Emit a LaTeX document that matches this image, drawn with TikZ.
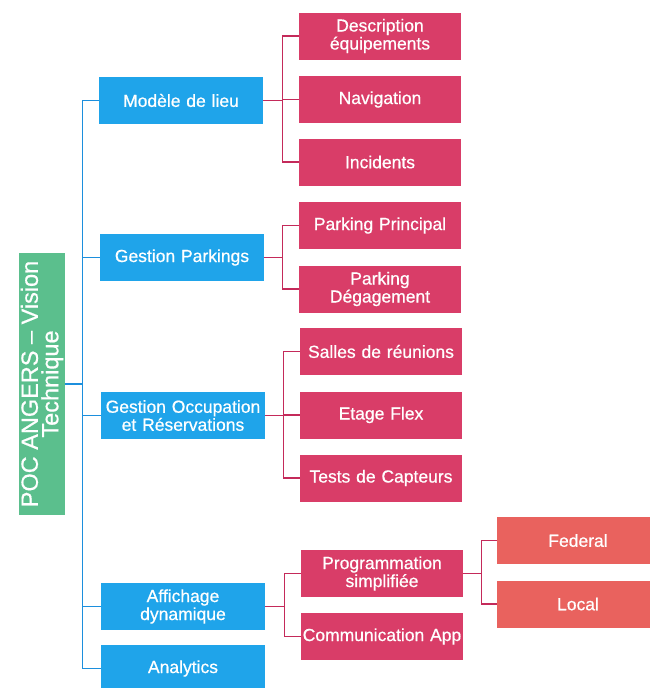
\documentclass[tikz,border=0pt]{standalone}
\usepackage{fontspec}
\setmainfont{Liberation Sans}
\newfontfamily\boxfont{Liberation Sans}[FakeBold=0.6]
\usepackage{tikz}

\definecolor{rootgreen}{HTML}{5BBF8D}
\definecolor{topicblue}{HTML}{1FA4EA}
\definecolor{trunkblue}{HTML}{1C8FDD}
\definecolor{itempink}{HTML}{D93D68}
\definecolor{buspink}{HTML}{C42A5A}
\definecolor{subsalmon}{HTML}{E9625E}

\tikzset{
  box/.style={draw=none, text=white, inner sep=0pt, align=center,
    minimum height=47, font=\boxfont\fontsize{17.5}{18}\selectfont},
  topic/.style={box, fill=topicblue, minimum width=164, text width=164},
  item/.style={box, fill=itempink, minimum width=162, text width=162},
  subitem/.style={box, fill=subsalmon, minimum width=162, text width=162},
  trunk/.style={draw=trunkblue, line width=1.4},
  bus/.style={draw=buspink, line width=1.4}
}

\begin{document}
\begin{tikzpicture}[x=1pt, y=-1pt]
\useasboundingbox (0,0) rectangle (649,688);
%
% root, read from bottom to top (its south side faces right)
\node[draw=none, fill=rootgreen, text=white, rotate=90, inner sep=0pt,
  minimum width=262, minimum height=46, align=center,
  font=\boxfont\fontsize{23.5}{20.5}\selectfont] (root) at (42,384)
  {POC ANGERS – Vision\\Technique};
%
% first level
\node[topic] (lieu)       at (181,100.5) {Modèle de lieu};
\node[topic] (parkings)   at (182,257.5) {Gestion Parkings};
\node[topic] (occupation) at (183,415.5) {Gestion Occupation\\et Réservations};
\node[topic] (affichage)  at (183,606.5) {Affichage\\dynamique};
\node[topic] (analytics)  at (183,668.5) {Analytics};
%
% second level
\node[item] (description) at (380,36)    {Description\\équipements};
\node[item] (navigation)  at (380,99.5)  {Navigation};
\node[item] (incidents)   at (380,162)   {Incidents};
\node[item] (principal)   at (380,225.5) {Parking Principal};
\node[item] (degagement)  at (380,289)   {Parking\\Dégagement};
\node[item] (salles)      at (381,351.5) {Salles de réunions};
\node[item] (flex)        at (381,415)   {Etage Flex};
\node[item] (tests)       at (381,478)   {Tests de Capteurs};
\node[item] (programmation) at (382,573.5) {Programmation\\simplifiée};
\node[item] (communication) at (382,636.5) {Communication App};
%
% third level
\node[subitem] (federal) at (578,540.5) {Federal};
\node[subitem] (local)   at (578,604)   {Local};
%
% connectors
\foreach \t in {lieu,parkings,occupation,affichage,analytics}
  \draw[trunk] (root.south) -- ++(17,0) |- (\t.west);
\foreach \c in {description,navigation,incidents}
  \draw[bus] (lieu.east) -- ++(19,0) |- (\c.west);
\foreach \c in {principal,degagement}
  \draw[bus] (parkings.east) -- ++(18,0) |- (\c.west);
\foreach \c in {salles,flex,tests}
  \draw[bus] (occupation.east) -- ++(18,0) |- (\c.west);
\foreach \c in {programmation,communication}
  \draw[bus] (affichage.east) -- ++(19,0) |- (\c.west);
\foreach \c in {federal,local}
  \draw[bus] (programmation.east) -- ++(18,0) |- (\c.west);
%
\end{tikzpicture}
\end{document}
